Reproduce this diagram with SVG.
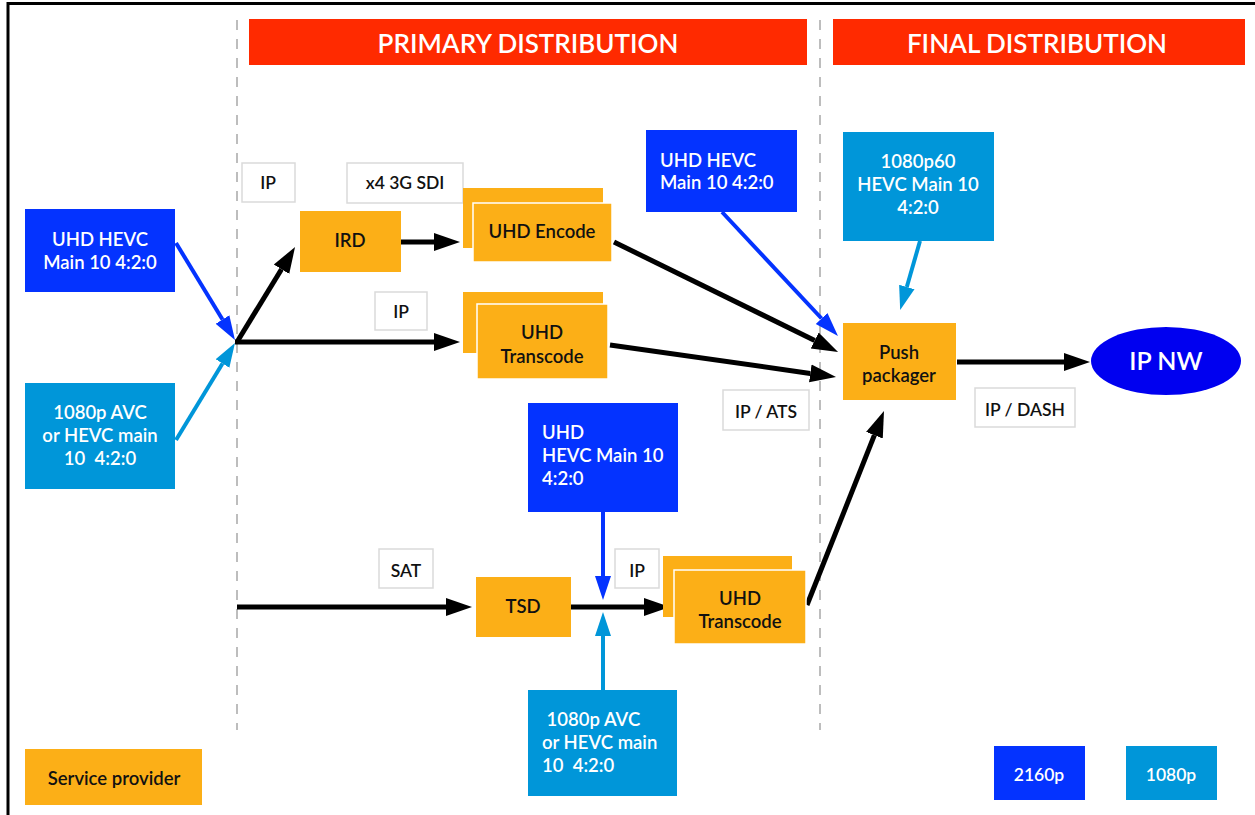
<svg xmlns="http://www.w3.org/2000/svg" width="1255" height="815" viewBox="0 0 1255 815">
<style>
  .t{font-family:Lato,"Noto Sans","Liberation Sans",sans-serif;font-weight:600;}
  .w{fill:#fff;}
  .k{fill:#111;}
  .c{text-anchor:middle;}
  .f17{font-size:18.5px;}
  .f16{font-size:17.5px;}
  .ban{fill:#FF2A00;}
  .dblue{fill:#0433FF;}
  .lblue{fill:#0096D9;}
  .org{fill:#FCAF17;}
  .lab{fill:#fff;stroke:#DADADA;stroke-width:1.5;}
  .dash{stroke:#BDBDBD;stroke-width:2;stroke-dasharray:10 9;fill:none;}
  .bk{stroke:#000;stroke-width:5;fill:none;marker-end:url(#ab);}
  .bl{stroke:#0433FF;stroke-width:4;fill:none;marker-end:url(#abl);}
  .lb{stroke:#0096D9;stroke-width:4;fill:none;marker-end:url(#alb);}
</style>
<defs>
  <marker id="ab" markerUnits="userSpaceOnUse" viewBox="0 -10 28 20" markerWidth="28" markerHeight="20" refX="0" refY="0" orient="auto"><path d="M0,-9 L26,0 L0,9 z" fill="#000"/></marker>
  <marker id="abl" markerUnits="userSpaceOnUse" viewBox="0 -10 26 20" markerWidth="26" markerHeight="20" refX="0" refY="0" orient="auto"><path d="M0,-8 L24,0 L0,8 z" fill="#0433FF"/></marker>
  <marker id="alb" markerUnits="userSpaceOnUse" viewBox="0 -10 26 20" markerWidth="26" markerHeight="20" refX="0" refY="0" orient="auto"><path d="M0,-8 L24,0 L0,8 z" fill="#0096D9"/></marker>
</defs>
<rect width="1255" height="815" fill="#fff"/>
<path d="M8,815 V3.5 H1255" fill="none" stroke="#000" stroke-width="3"/>
<g id="dividers">
  <line class="dash" x1="237" y1="20" x2="237" y2="730"/>
  <line class="dash" x1="820" y1="20" x2="820" y2="730"/>
</g>
<g id="banner-primary">
  <rect class="ban" x="249" y="19" width="558" height="46"/>
  <text class="t w c" x="528" y="53" font-size="26">PRIMARY DISTRIBUTION</text>
</g>
<g id="banner-final">
  <rect class="ban" x="833" y="19" width="412" height="46"/>
  <text class="t w c" x="1037" y="53" font-size="26">FINAL DISTRIBUTION</text>
</g>
<g id="connectors">
  <line class="bl" x1="176" y1="243" x2="222.5" y2="319.5"/>
  <line class="lb" x1="176" y1="440" x2="222.5" y2="363.5"/>
  <line class="bk" x1="237" y1="342" x2="281.5" y2="269.2"/>
  <line class="bk" x1="235" y1="342" x2="434" y2="342"/>
  <line class="bk" x1="401" y1="242" x2="434" y2="242"/>
  <line class="bk" x1="614" y1="242" x2="814.7" y2="340.5"/>
  <line class="bk" x1="610" y1="345" x2="810.3" y2="373.4"/>
  <line class="bl" x1="722" y1="212" x2="821.6" y2="318.5"/>
  <line class="lb" x1="920" y1="241" x2="906.8" y2="287"/>
  <line class="bk" x1="957" y1="362" x2="1064" y2="362"/>
  <line class="bk" x1="807" y1="605" x2="874.4" y2="435.2"/>
  <line class="bk" x1="237" y1="607" x2="446" y2="607"/>
  <line class="bk" x1="571" y1="607" x2="644" y2="607"/>
  <line class="bl" x1="603" y1="512" x2="603" y2="576"/>
  <line class="lb" x1="603" y1="690" x2="603" y2="636"/>
</g>
<g id="src-uhd-left">
  <rect class="dblue" x="25" y="209" width="150" height="83"/>
  <text class="t w c f17" x="100" y="246">UHD HEVC</text>
  <text class="t w c f17" x="100" y="269">Main 10 4:2:0</text>
</g>
<g id="src-1080-left">
  <rect class="lblue" x="25" y="383" width="150" height="106"/>
  <text class="t w c f17" x="100" y="419">1080p AVC</text>
  <text class="t w c f17" x="100" y="442">or HEVC main</text>
  <text class="t w c f17" x="100" y="465" xml:space="preserve">10  4:2:0</text>
</g>
<g id="lbl-ip-1">
  <rect class="lab" x="242" y="163" width="53" height="39"/>
  <text class="t k c f16" x="268" y="189">IP</text>
</g>
<g id="lbl-sdi">
  <rect class="lab" x="347" y="163" width="116" height="40"/>
  <text class="t k c f16" x="405" y="189">x4 3G SDI</text>
</g>
<g id="ird">
  <rect class="org" x="300" y="211" width="101" height="61"/>
  <text class="t k c f17" x="350" y="247">IRD</text>
</g>
<g id="uhd-encode">
  <rect class="org" x="463" y="188" width="140" height="60"/>
  <rect class="org" x="473" y="203" width="139" height="59" stroke="#fff" stroke-width="1.5"/>
  <text class="t k c f17" x="542" y="238">UHD Encode</text>
</g>
<g id="lbl-ip-2">
  <rect class="lab" x="375" y="292" width="52" height="38"/>
  <text class="t k c f16" x="401" y="318">IP</text>
</g>
<g id="uhd-transcode-1">
  <rect class="org" x="463" y="292" width="140" height="61"/>
  <rect class="org" x="477" y="304" width="131" height="75" stroke="#fff" stroke-width="1.5"/>
  <text class="t k c f17" x="542" y="339">UHD</text>
  <text class="t k c f17" x="542" y="363">Transcode</text>
</g>
<g id="src-uhd-top">
  <rect class="dblue" x="646" y="130" width="151" height="82"/>
  <text class="t w f17" x="660" y="167">UHD HEVC</text>
  <text class="t w f17" x="660" y="189">Main 10 4:2:0</text>
</g>
<g id="lbl-ip-ats">
  <rect class="lab" x="723" y="390" width="86" height="40"/>
  <text class="t k c f16" x="766" y="418">IP / ATS</text>
</g>
<g id="src-1080p60">
  <rect class="lblue" x="843" y="132" width="151" height="109"/>
  <text class="t w c f17" x="918" y="168">1080p60</text>
  <text class="t w c f17" x="918" y="191">HEVC Main 10</text>
  <text class="t w c f17" x="918" y="214">4:2:0</text>
</g>
<g id="push-packager">
  <rect class="org" x="843" y="323" width="113" height="77"/>
  <text class="t k c f17" x="899" y="359">Push</text>
  <text class="t k c f17" x="899" y="382">packager</text>
</g>
<g id="ip-nw">
  <ellipse cx="1166" cy="361" rx="75" ry="34" fill="#0000F0"/>
  <text class="t w c" x="1166" y="370" font-size="25">IP NW</text>
</g>
<g id="lbl-ip-dash">
  <rect class="lab" x="975" y="388" width="100" height="39"/>
  <text class="t k c f16" x="1025" y="416">IP / DASH</text>
</g>
<g id="src-uhd-mid">
  <rect class="dblue" x="528" y="403" width="150" height="109"/>
  <text class="t w f17" x="542" y="439">UHD</text>
  <text class="t w f17" x="542" y="462">HEVC Main 10</text>
  <text class="t w f17" x="542" y="485">4:2:0</text>
</g>
<g id="lbl-sat">
  <rect class="lab" x="379" y="549" width="54" height="39"/>
  <text class="t k c f16" x="406" y="577">SAT</text>
</g>
<g id="tsd">
  <rect class="org" x="476" y="577" width="95" height="60"/>
  <text class="t k c f17" x="523" y="613">TSD</text>
</g>
<g id="lbl-ip-3">
  <rect class="lab" x="615" y="549" width="44" height="39"/>
  <text class="t k c f16" x="637" y="577">IP</text>
</g>
<g id="uhd-transcode-2">
  <rect class="org" x="663" y="556" width="129" height="61"/>
  <rect class="org" x="674" y="570" width="132" height="74" stroke="#fff" stroke-width="1.5"/>
  <text class="t k c f17" x="740" y="605">UHD</text>
  <text class="t k c f17" x="740" y="628">Transcode</text>
</g>
<g id="src-1080-bottom">
  <rect class="lblue" x="528" y="690" width="149" height="106"/>
  <text class="t w f17" x="542" y="726" xml:space="preserve"> 1080p AVC</text>
  <text class="t w f17" x="542" y="749">or HEVC main</text>
  <text class="t w f17" x="542" y="772" xml:space="preserve">10  4:2:0</text>
</g>
<g id="legend-service">
  <rect class="org" x="25" y="749" width="177" height="56"/>
  <text class="t k c" x="114" y="785" font-size="18.5">Service provider</text>
</g>
<g id="legend-2160">
  <rect class="dblue" x="994" y="746" width="91" height="54"/>
  <text class="t w c f16" x="1039" y="781">2160p</text>
</g>
<g id="legend-1080">
  <rect class="lblue" x="1126" y="746" width="91" height="54"/>
  <text class="t w c f16" x="1171" y="781">1080p</text>
</g>
</svg>
